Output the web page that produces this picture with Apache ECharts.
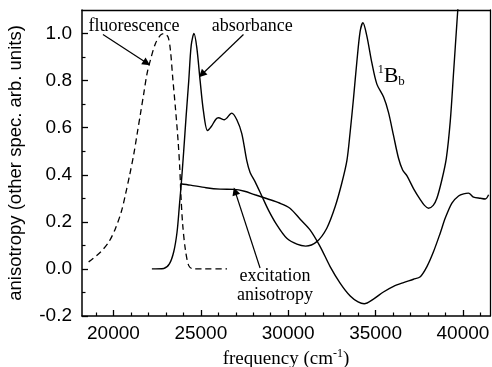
<!DOCTYPE html>
<html><head><meta charset="utf-8">
<script src="https://cdn.jsdelivr.net/npm/echarts@6/dist/echarts.min.js"></script>
<style>html,body{margin:0;padding:0;background:#fff}#c{width:492px;height:367px}</style>
</head><body><div id="c"></div>
<script>
// frequency (cm-1), value
const fluorescence = [[18580,0.03],[19250,0.071],[19730,0.114],[20110,0.171],[20450,0.243],[20680,0.314],[20930,0.40],[21160,0.486],[21350,0.571],[21540,0.657],[21730,0.743],[21920,0.829],[22110,0.886],[22400,0.957],[22690,0.993],[22880,1.0],[23120,0.986],[23260,0.929],[23390,0.814],[23545,0.686],[23700,0.543],[23795,0.429],[23870,0.30],[23965,0.186],[24120,0.08],[24310,0.014],[24550,0.0],[25200,0.0],[26500,0.0]];
const absorbance = [[22200,0.0],[22880,0.002],[23200,0.021],[23450,0.073],[23640,0.157],[23775,0.27],[23890,0.37],[24020,0.50],[24160,0.65],[24310,0.80],[24450,0.95],[24610,1.0],[24770,0.94],[24960,0.80],[25150,0.67],[25380,0.588],[25600,0.605],[25850,0.635],[26010,0.642],[26350,0.634],[26770,0.662],[27060,0.634],[27345,0.575],[27630,0.46],[27820,0.41],[28110,0.37],[28490,0.31],[28870,0.25],[29350,0.187],[29920,0.13],[30500,0.105],[31000,0.097],[31640,0.116],[32210,0.173],[32690,0.265],[33070,0.365],[33360,0.46],[33550,0.584],[33740,0.726],[33930,0.88],[34120,1.01],[34280,1.046],[34500,0.99],[34790,0.875],[35075,0.785],[35460,0.73],[35740,0.665],[36030,0.566],[36315,0.47],[36550,0.42],[36800,0.395],[37180,0.34],[37560,0.294],[37800,0.27],[38030,0.258],[38300,0.27],[38510,0.30],[38800,0.38],[39050,0.47],[39275,0.627],[39470,0.84],[39660,1.05],[39800,1.2],[39950,1.35]];
const anisotropy = [[23830,0.362],[24400,0.356],[25300,0.345],[26100,0.339],[26900,0.338],[27500,0.33],[28100,0.315],[28800,0.298],[29500,0.28],[30100,0.258],[30700,0.21],[31250,0.166],[31830,0.095],[32400,0.01],[32980,-0.061],[33550,-0.115],[34000,-0.14],[34350,-0.148],[34880,-0.128],[35450,-0.098],[36030,-0.074],[36600,-0.058],[37170,-0.044],[37560,-0.033],[37940,0.01],[38320,0.074],[38700,0.152],[38990,0.216],[39370,0.28],[39750,0.31],[40040,0.319],[40320,0.322],[40610,0.305],[41000,0.30],[41280,0.297],[41470,0.315]];

const xMajorTicks = [20000,25000,30000,35000,40000];
const xMinorTicks = [19000,21000,22000,23000,24000,26000,27000,28000,29000,31000,32000,33000,34000,36000,37000,38000,39000,41000];
const yMajorTicks = [-0.2,0.0,0.2,0.4,0.6,0.8,1.0];
const yMinorTicks = [-0.1,0.1,0.3,0.5,0.7,0.9];
const xRange = [18200,41550];
const yRange = [-0.2,1.1];

const labelTexts = ['fluorescence','absorbance','{sup|1}{b|B}{sub|b}','excitation\nanisotropy'];
const labelCoords = [[21180,1.03],[27940,1.03],[35900,0.82],[29250,-0.072]];
const arrowFrom = [[19400,0.996],[27440,0.996],[28390,0.004]];
const arrowTo = [[21905,0.875],[25055,0.826],[26960,0.33]];

const black = '#000';
const axisLineStyle = {color:black,width:1.5};
function xAx(extra){return Object.assign({type:'value',min:xRange[0],max:xRange[1],splitLine:{show:false},axisLine:{show:false,onZero:false},axisTick:{show:false},axisLabel:{show:false}},extra);}
function yAx(extra){return Object.assign({type:'value',min:yRange[0],max:yRange[1],splitLine:{show:false},axisLine:{show:false,onZero:false},axisTick:{show:false},axisLabel:{show:false}},extra);}

const chart = echarts.init(document.getElementById('c'));
chart.setOption({
  animation:false,
  backgroundColor:'#fff',
  grid:{left:82,right:2,top:10,bottom:51,containLabel:false,outerBoundsMode:'none'},
  xAxis:[
    xAx({position:'bottom',axisLine:{show:true,onZero:false,lineStyle:axisLineStyle},
      axisTick:{show:true,inside:true,length:6,customValues:xMajorTicks,lineStyle:{color:black,width:1.3}},
      axisLabel:{show:true,customValues:xMajorTicks,color:black,fontFamily:'Liberation Sans',fontSize:19,margin:8,formatter:v=>String(Math.round(v))},
      name:'frequency (cm{sup|-1})',nameLocation:'middle',nameGap:27,
      nameTextStyle:{color:black,fontFamily:'Liberation Serif',fontSize:19,lineHeight:22,
        rich:{sup:{fontFamily:'Liberation Serif',fontSize:12,color:black,verticalAlign:'top',lineHeight:22}}}}),
    xAx({position:'bottom',axisTick:{show:true,inside:true,length:3.5,customValues:xMinorTicks,lineStyle:{color:black,width:1.2}}}),
    xAx({position:'top',axisLine:{show:true,onZero:false,lineStyle:{color:black,width:1.3}}})
  ],
  yAxis:[
    yAx({position:'left',axisLine:{show:true,onZero:false,lineStyle:axisLineStyle},
      axisTick:{show:true,inside:true,length:6,customValues:yMajorTicks,lineStyle:{color:black,width:1.3}},
      axisLabel:{show:true,customValues:yMajorTicks,color:black,fontFamily:'Liberation Sans',fontSize:19,margin:10,formatter:v=>Number(v).toFixed(1)},
      name:'anisotropy (other spec. arb. units)',nameLocation:'middle',nameGap:57,
      nameTextStyle:{color:black,fontFamily:'Liberation Sans',fontSize:18.5}}),
    yAx({position:'left',axisTick:{show:true,inside:true,length:3.5,customValues:yMinorTicks,lineStyle:{color:black,width:1.2}}}),
    yAx({position:'right',axisLine:{show:true,onZero:false,lineStyle:{color:black,width:1.3}}})
  ],
  series:[
    {type:'line',name:'fluorescence',data:fluorescence,smooth:0.3,symbol:'none',clip:true,
      lineStyle:{color:black,width:1.3,type:[6,4]}},
    {type:'line',name:'absorbance',data:absorbance,smooth:0.3,symbol:'none',clip:true,
      lineStyle:{color:black,width:1.4}},
    {type:'line',name:'excitation anisotropy',data:anisotropy,smooth:0.3,symbol:'none',clip:true,
      lineStyle:{color:black,width:1.4}},
    {type:'line',name:'annotations',data:[],symbol:'none',
      markLine:{silent:true,symbol:['none','triangle'],symbolSize:8,animation:false,
        lineStyle:{color:black,width:1.2,type:'solid'},itemStyle:{color:black},label:{show:false},
        emphasis:{disabled:true},
        data:arrowFrom.map((f,i)=>[{coord:f},{coord:arrowTo[i]}])},
      markPoint:{silent:true,symbol:'circle',symbolSize:1,itemStyle:{color:'rgba(0,0,0,0)'},animation:false,
        label:{show:true,position:'inside',color:black,fontFamily:'Liberation Serif',fontSize:18,lineHeight:19,
          formatter:p=>p.name,
          rich:{sup:{fontFamily:'Liberation Serif',fontSize:12,color:black,verticalAlign:'top',lineHeight:24},
                b:{fontFamily:'Liberation Serif',fontSize:22,color:black,lineHeight:24},
                sub:{fontFamily:'Liberation Serif',fontSize:13,color:black,verticalAlign:'bottom',lineHeight:24}}},
        data:labelTexts.map((t,i)=>({name:t,coord:labelCoords[i]}))}}
  ]
});
</script></body></html>
